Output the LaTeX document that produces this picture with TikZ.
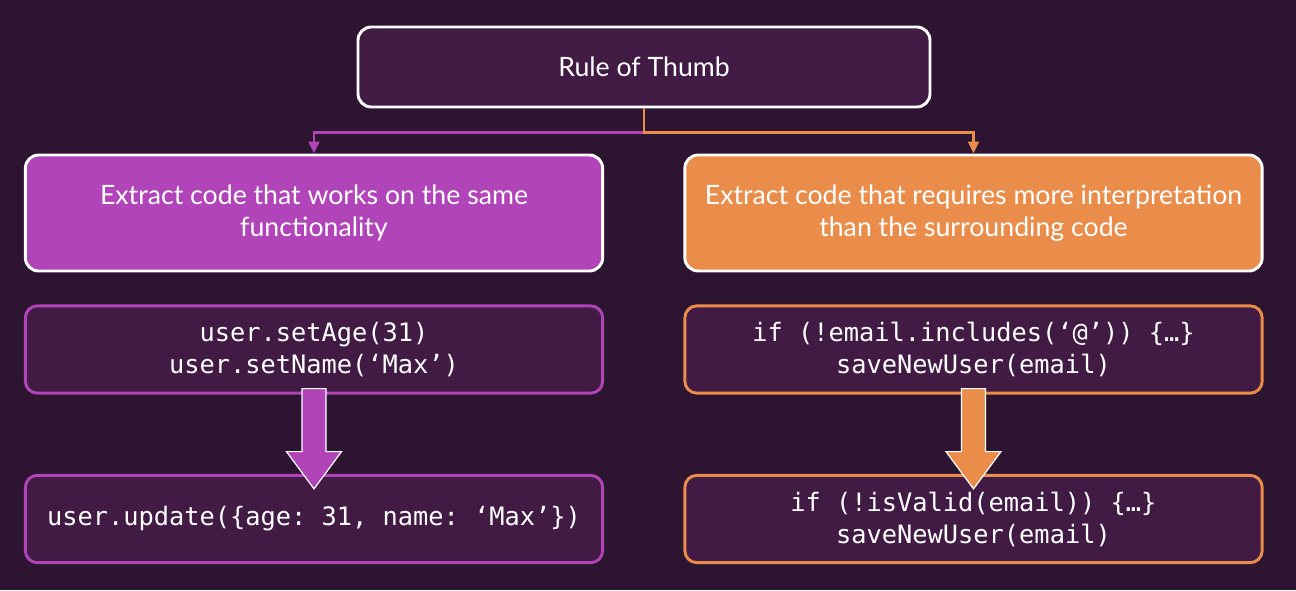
\documentclass[tikz,border=0pt]{standalone}
\usepackage{fontspec}
\setmainfont{Lato}
\setmonofont{DejaVu Sans Mono}
\usepackage{tikz}
\usetikzlibrary{positioning, arrows.meta, calc}

\definecolor{bgplum}{HTML}{2D1430}
\definecolor{boxplum}{HTML}{421B45}
\definecolor{funcpurple}{HTML}{B044B8}
\definecolor{interporange}{HTML}{EA8C4A}

\tikzset{
    rulebox/.style={draw=white, fill=boxplum, line width=2.2pt, rounded corners=10pt,
        minimum width=429pt, minimum height=60pt, inner sep=0pt, text=white,
        font=\fontsize{20}{24}\selectfont},
    choice/.style={draw=white, line width=2.2pt, rounded corners=10pt,
        minimum width=433pt, minimum height=87pt, inner sep=0pt, text=white, align=center,
        font=\fontsize{20}{23.5}\selectfont},
    codebox/.style={fill=boxplum, line width=2.2pt, rounded corners=9pt,
        minimum width=433pt, minimum height=65.5pt, inner sep=0pt, text=white, align=center,
        font=\ttfamily\fontsize{19}{24}\selectfont},
    link/.style={line width=2.2pt, -{Triangle[length=9pt, width=8pt]}},
    bigarrow/.style={draw=white, line width=0.9pt, line join=miter}
}

\begin{document}
\begin{tikzpicture}[x=0.75pt, y=-0.75pt]

    % Background
    \fill[bgplum] (0,0) rectangle (1296,590);
    \useasboundingbox (0,0) rectangle (1296,590);

    % Top box
    \node[rulebox] (rule) at (644,67) {Rule of Thumb};

    % Two kinds of extraction
    \node[choice, fill=funcpurple] (func) at (314,213)
        {Extract code that works on the same\\functionality};
    \node[choice, fill=interporange] (interp) at (973.5,213)
        {Extract code that requires more interpretation\\than the surrounding code};

    % Code before and after
    \node[codebox, draw=funcpurple] (funcold) at (314,349.5)
        {user.setAge(31)\\user.setName(‘Max’)};
    \node[codebox, draw=funcpurple] (funcnew) at (314,519)
        {user.update(\{age: 31, name: ‘Max’\})};
    \node[codebox, draw=interporange] (interpold) at (973.5,349.5)
        {if (!email.includes(‘@’)) \{…\}\\saveNewUser(email)};
    \node[codebox, draw=interporange] (interpnew) at (973.5,519)
        {if (!isValid(email)) \{…\}\\saveNewUser(email)};

    % Arrows from the rule
    \coordinate (split) at ($(rule.south)+(0,24)$);
    \draw[link, funcpurple] (split) -| (func.north);
    \draw[link, interporange] (rule.south) -- (split) -| (interp.north);

    % Block arrows
    \foreach \src/\dst/\col in {funcold/funcnew/funcpurple, interpold/interpnew/interporange} {
        \draw[bigarrow, fill=\col] ($(\src.south)+(-12,-6)$) -- ++(0,63) -- ++(-15.5,0)
            -- ($(\dst.north)+(0,15)$) -- ($(\src.south)+(27.5,57)$) -- ++(-15.5,0)
            -- ($(\src.south)+(12,-6)$) -- cycle;
    }

\end{tikzpicture}
\end{document}
